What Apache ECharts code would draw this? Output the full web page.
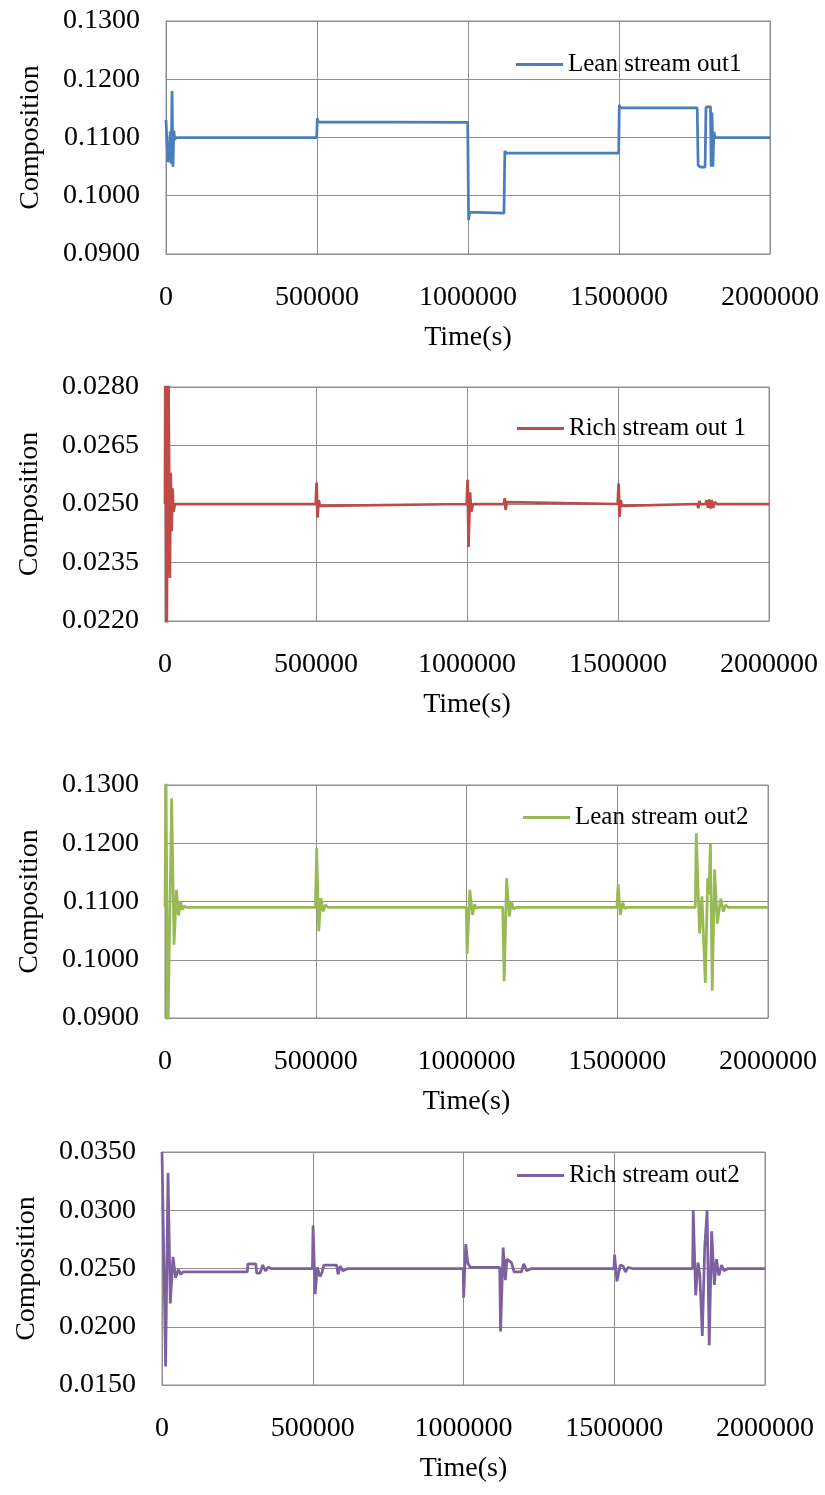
<!DOCTYPE html>
<html>
<head>
<meta charset="utf-8">
<script src="https://cdn.jsdelivr.net/npm/echarts@6/dist/echarts.min.js"></script>
<style>html,body{margin:0;padding:0;background:#fff}#c{width:825px;height:1495px}</style>
</head>
<body>
<div id="c"></div>
<script>
// ---------- data ----------
const seriesNames = ['Lean stream out1', 'Rich stream out 1', 'Lean stream out2', 'Rich stream out2'];
const xTicks = [0, 500000, 1000000, 1500000, 2000000];

const lean1T = [0, 3000, 6000, 10000, 14000, 17000, 20000, 23000, 26000, 29000, 33000, 499000, 501000, 504000, 510000, 999000, 1002000, 1005000, 1010000, 1119000, 1122000, 1126000, 1132000, 1499000, 1501000, 1504000, 1510000, 1759000, 1762000, 1770000, 1785000, 1788000, 1803000, 1805000, 1808000, 1811000, 1814000, 1818000, 2000000];
const lean1V = [0.1130, 0.1128, 0.1058, 0.1062, 0.1110, 0.1055, 0.1180, 0.1050, 0.1112, 0.1096, 0.1100, 0.1100, 0.1133, 0.1127, 0.1126, 0.1126, 0.0958, 0.0972, 0.0970, 0.0970, 0.1077, 0.1073, 0.1073, 0.1073, 0.1156, 0.1151, 0.1151, 0.1151, 0.1052, 0.1049, 0.1049, 0.1152, 0.1153, 0.1050, 0.1143, 0.1050, 0.1110, 0.1100, 0.1100];

const rich1T = [0, 1500, 5000, 10000, 16000, 19000, 22000, 25000, 28000, 33000, 499000, 502000, 505000, 509000, 513000, 518000, 999000, 1002000, 1005000, 1010000, 1014000, 1020000, 1122000, 1125000, 1128000, 1132000, 1136000, 1499000, 1502000, 1505000, 1509000, 1513000, 1518000, 1763000, 1766000, 1769000, 1773000, 1790000, 1794000, 1798000, 1802000, 1806000, 1810000, 1815000, 1820000, 1828000, 2000000];
const rich1V = [0.0250, 0.0300, 0.0200, 0.0300, 0.0231, 0.0258, 0.0243, 0.0254, 0.0248, 0.0250, 0.0250, 0.02555, 0.02465, 0.0251, 0.02495, 0.0250, 0.0250, 0.02562, 0.0239, 0.0253, 0.0248, 0.0250, 0.0250, 0.02515, 0.02485, 0.02505, 0.0250, 0.0250, 0.02553, 0.02467, 0.0251, 0.02495, 0.0250, 0.0250, 0.02489, 0.02508, 0.0250, 0.0250, 0.0251, 0.0249, 0.02512, 0.02488, 0.02510, 0.02490, 0.02505, 0.0250, 0.0250];

const lean2T = [0, 3000, 9000, 22000, 30000, 38000, 45000, 52000, 58000, 64000, 72000, 499000, 503000, 510000, 517000, 525000, 532000, 541000, 999000, 1002000, 1011000, 1020000, 1027000, 1033000, 1040000, 1120000, 1125000, 1133000, 1142000, 1149000, 1156000, 1165000, 1499000, 1503000, 1510000, 1518000, 1525000, 1534000, 1759000, 1762000, 1773000, 1781000, 1792000, 1800000, 1804000, 1809000, 1815000, 1823000, 1832000, 1843000, 1852000, 1860000, 1868000, 2000000];
const lean2V = [0.1090, 0.1350, 0.0850, 0.1277, 0.1026, 0.1120, 0.1076, 0.1100, 0.1086, 0.1092, 0.1090, 0.1090, 0.1192, 0.1049, 0.1106, 0.1083, 0.1094, 0.1090, 0.1090, 0.1010, 0.1120, 0.1077, 0.1095, 0.1088, 0.1090, 0.1090, 0.0963, 0.1140, 0.1074, 0.1100, 0.1087, 0.1090, 0.1090, 0.1130, 0.1077, 0.1098, 0.1088, 0.1090, 0.1090, 0.1217, 0.1045, 0.1109, 0.0960, 0.1140, 0.1112, 0.1200, 0.0947, 0.1155, 0.1062, 0.1105, 0.1083, 0.1094, 0.1090, 0.1090];

const rich2T = [0, 12000, 20000, 27500, 36500, 45000, 54000, 62000, 70000, 283000, 285000, 311000, 314000, 325000, 334000, 343000, 352000, 363000, 499000, 501000, 508000, 515000, 524000, 530000, 537000, 579000, 584000, 591000, 600000, 617000, 999000, 1000500, 1007500, 1014000, 1022000, 1120000, 1123000, 1131500, 1139000, 1144000, 1159000, 1168000, 1192000, 1200000, 1209000, 1226000, 1499000, 1501000, 1509000, 1520000, 1530000, 1537000, 1546000, 1560000, 1760000, 1762000, 1770000, 1778000, 1784000, 1792000, 1800000, 1808000, 1815000, 1823000, 1832000, 1839000, 1847000, 1856000, 1864000, 1877000, 2000000];
const rich2V = [0.0350, 0.0166, 0.0332, 0.0220, 0.0260, 0.0242, 0.0249, 0.0245, 0.0247, 0.0247, 0.0254, 0.0254, 0.0246, 0.0246, 0.0253, 0.0248, 0.0251, 0.0250, 0.0250, 0.0287, 0.0228, 0.0251, 0.0243, 0.0246, 0.0253, 0.0253, 0.0245, 0.0252, 0.0248, 0.0250, 0.0250, 0.0225, 0.0271, 0.0255, 0.0251, 0.0251, 0.0196, 0.0268, 0.0240, 0.0258, 0.0255, 0.0247, 0.0247, 0.0254, 0.0248, 0.0250, 0.0250, 0.0262, 0.0239, 0.0253, 0.0252, 0.0247, 0.0251, 0.0250, 0.0250, 0.0300, 0.0227, 0.0255, 0.0244, 0.0192, 0.0268, 0.0300, 0.0184, 0.0282, 0.0236, 0.0258, 0.0244, 0.0253, 0.0248, 0.0250, 0.0250];

const yMins = [0.09, 0.022, 0.09, 0.015];
const yMaxs = [0.13, 0.028, 0.13, 0.035];
const yIntervals = [0.01, 0.0015, 0.01, 0.005];
const colors = ['#4A7EBB', '#BE4B48', '#98B954', '#7D60A0'];
const allT = [lean1T, rich1T, lean2T, rich2T];
const allV = [lean1V, rich1V, lean2V, rich2V];

// ---------- layout ----------
const grids = [
  {left: 166, top: 21, width: 604, height: 233},
  {left: 165, top: 387, width: 604, height: 234},
  {left: 165, top: 785, width: 603, height: 233},
  {left: 162, top: 1152, width: 603, height: 233}
];
const legendPos = [
  {left: 516, top: 52},
  {left: 517, top: 416},
  {left: 523, top: 805},
  {left: 517, top: 1163}
];
const FONT = '"Liberation Serif", "Times New Roman", serif';
const GRIDC = '#8e8e8e';

const option = {
  animation: false,
  backgroundColor: '#fff',
  grid: grids.map(g => Object.assign({show: true, borderColor: GRIDC, borderWidth: 1, containLabel: false}, g)),
  xAxis: grids.map((g, i) => ({
    gridIndex: i, type: 'value', min: 0, max: 2000000, interval: 500000,
    axisLine: {show: true, lineStyle: {color: GRIDC, width: 1}},
    axisTick: {show: false},
    splitLine: {show: true, lineStyle: {color: GRIDC, width: 1}},
    axisLabel: {fontFamily: FONT, fontSize: 28, color: '#000', margin: 30,
      formatter: v => String(xTicks.find(t => Math.abs(t - v) < 1) ?? v)},
    name: 'Time(s)', nameLocation: 'middle', nameGap: 70,
    nameTextStyle: {fontFamily: FONT, fontSize: 28, color: '#000'}
  })),
  yAxis: grids.map((g, i) => ({
    gridIndex: i, type: 'value', min: yMins[i], max: yMaxs[i], interval: yIntervals[i],
    axisLine: {show: true, lineStyle: {color: GRIDC, width: 1}},
    axisTick: {show: false},
    splitLine: {show: true, lineStyle: {color: GRIDC, width: 1}},
    axisLabel: {fontFamily: FONT, fontSize: 28, color: '#000', margin: 26,
      formatter: v => v.toFixed(4)},
    name: 'Composition', nameLocation: 'middle', nameGap: 121, nameRotate: 90,
    nameTextStyle: {fontFamily: FONT, fontSize: 28, color: '#000'}
  })),
  legend: legendPos.map((p, i) => ({
    left: p.left, top: p.top, padding: 0, data: [seriesNames[i]], icon: 'rect', itemWidth: 47, itemHeight: 3,
    textStyle: {fontFamily: FONT, fontSize: 25, color: '#000'},
    selectedMode: false
  })),
  series: allT.map((ts, i) => ({
    name: seriesNames[i], type: 'line', xAxisIndex: i, yAxisIndex: i,
    showSymbol: false, symbol: 'none', clip: true,
    lineStyle: {color: colors[i], width: 2.75}, itemStyle: {color: colors[i]},
    data: ts.map((t, k) => [t, allV[i][k]])
  }))
};

const chart = echarts.init(document.getElementById('c'), null, {renderer: 'canvas'});
chart.setOption(option);
</script>
</body>
</html>
